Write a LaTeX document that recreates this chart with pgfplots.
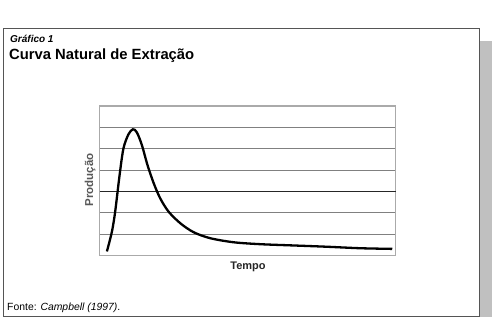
\documentclass[border=0pt]{standalone}
\usepackage{pgfplots}
\pgfplotsset{compat=1.18}
\usepackage{fontspec}
\setmainfont{Liberation Sans}
\definecolor{framegray}{HTML}{555555}
\definecolor{shadow}{HTML}{C0C0C0}
\definecolor{axisgray}{HTML}{AAAAAA}
\definecolor{gridgray}{HTML}{808080}
\begin{document}
\begin{tikzpicture}
\path[use as bounding box] (0pt,0pt) rectangle (502pt,317pt);
\fill[shadow] (480pt,0pt) rectangle (492pt,276pt);
\draw[framegray, line width=1pt, fill=white] (3pt,0.5pt) rectangle (479pt,289pt);
\node[anchor=base west, inner sep=0pt, font=\fontsize{10}{11}\selectfont\bfseries\itshape] at (10pt,274.5pt) {Gráfico 1};
\node[anchor=base west, inner sep=0pt, font=\fontsize{14.8}{16}\selectfont\bfseries] at (9pt,258pt) {Curva Natural de Extração};
\node[anchor=base west, inner sep=0pt, font=\fontsize{10.4}{12}\selectfont] at (7pt,6.3pt) {Fonte: \textit{Campbell (1997)}.};
\begin{axis}[
  at={(99.5pt,61.5pt)}, anchor=south west,
  scale only axis, width=296pt, height=149.5pt,
  xmin=0, xmax=100, ymin=0, ymax=7,
  xtick=\empty, ytick={1,2,4,5,6},
  yticklabels={}, major tick length=0pt,
  ymajorgrids, grid style={gridgray, line width=0.9pt},
  extra y ticks={3}, extra y tick labels={},
  extra y tick style={grid style={black!85, line width=0.9pt}},
  axis line style={axisgray, line width=1.2pt},
  clip=false,
]
\addplot[black, line width=2.3pt, smooth, tension=0.5] coordinates {
(2.5,0.19) (4.2,1.12) (5.3,2.06) (6.8,3.78) (8.1,5.02) (9.8,5.68) (11.3,5.91)
(12.6,5.77) (14.3,5.18) (16.2,4.24) (18.3,3.39) (20.5,2.68) (23.3,2.06)
(27.3,1.51) (31.8,1.09) (37.4,0.81) (45.3,0.62) (54.3,0.53) (65.6,0.47)
(76.9,0.41) (88.2,0.34) (98.9,0.31)
};
\end{axis}
\node[anchor=base, inner sep=0pt, text=black!85, font=\fontsize{11}{12}\selectfont\bfseries] at (248pt,47.5pt) {Tempo};
\node[anchor=base, rotate=90, inner sep=0pt, text=black!65, font=\fontsize{11.5}{12}\selectfont\bfseries] at (93pt,137pt) {Produção};
\end{tikzpicture}
\end{document}
